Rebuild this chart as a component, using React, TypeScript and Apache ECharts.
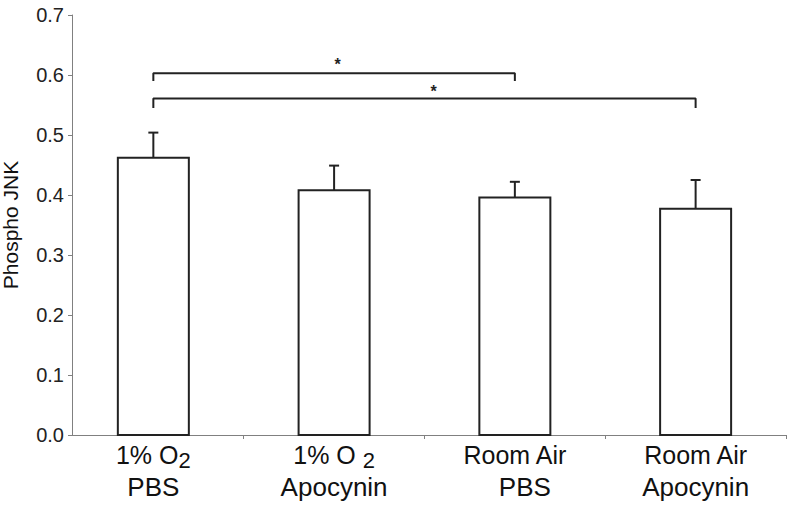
import React, { useEffect, useRef } from "react";
import * as echarts from "echarts";

// ---- data ----
const categories = ["1% O2 PBS", "1% O2 Apocynin", "Room Air PBS", "Room Air Apocynin"];
const labelTop = ["1% O", "1% O ", "Room Air", "Room Air"];
const labelSub = ["2", "2", "", ""];
const labelBottom = ["PBS", "Apocynin", "PBS", "Apocynin"];
const means = [0.462, 0.408, 0.396, 0.377];
const errors = [0.042, 0.041, 0.026, 0.048];
const yTicks = [0, 0.1, 0.2, 0.3, 0.4, 0.5, 0.6, 0.7];
const yName = "Phospho JNK";
// significance brackets: [from index, to index, bar level, leg bottom]
const brackets = [
  [0, 2, 0.603, 0.59],
  [0, 3, 0.561, 0.545],
];
const starText = ["*", "*"];
const starX = [1.02, 1.55];
const starLevels = [0.617, 0.573];

const FONT = "Liberation Sans, Arial, Helvetica, sans-serif";

export default function App() {
  const ref = useRef<HTMLDivElement>(null);

  useEffect(() => {
    if (!ref.current) return;
    const chart = echarts.init(ref.current, undefined, { renderer: "svg" });

    const barData = means.map((m, i) => [i, m]);
    const errData = means.map((m, i) => [i, m, m + errors[i]]);
    const bracketSeries = brackets.map((b) => ({
      type: "line",
      data: [
        [b[0], b[3]],
        [b[0], b[2]],
        [b[1], b[2]],
        [b[1], b[3]],
      ],
      symbol: "none",
      silent: true,
      lineStyle: { color: "#222", width: 2 },
      z: 5,
    }));
    const starData = starX.map((x, i) => [x, starLevels[i], i]);
    const BAR_W = 71;

    const option: any = {
      animation: false,
      backgroundColor: "#fff",
      grid: { left: 72, right: 6, top: 15, bottom: 78, containLabel: false, outerBoundsMode: "none" },
      xAxis: {
        type: "value",
        min: -0.45,
        max: 3.5,
        splitLine: { show: false },
        axisLine: { show: true, onZero: false, lineStyle: { color: "#808080", width: 1 } },
        axisTick: {
          show: true,
          length: 4,
          customValues: [0.5, 1.5, 2.5, 3.5],
          lineStyle: { color: "#808080" },
        },
        axisLabel: {
          show: true,
          customValues: categories.map((_, i) => i),
          margin: 4,
          formatter: (v: number) => {
            const i = Math.round(v);
            const sub = labelSub[i] ? `{s|${labelSub[i]}}` : "";
            const bottomStyle = i === 2 ? "c" : "b";
            return `{a|${labelTop[i]}}${sub}\n{${bottomStyle}|${labelBottom[i]}}`;
          },
          rich: {
            a: { fontSize: 25, lineHeight: 32, color: "#111", fontFamily: FONT },
            s: { fontSize: 22, lineHeight: 18, color: "#111", fontFamily: FONT, verticalAlign: "bottom" },
            b: { fontSize: 26, lineHeight: 32, color: "#111", fontFamily: FONT },
            c: { fontSize: 26, lineHeight: 32, color: "#111", fontFamily: FONT, padding: [0, 0, 0, 20] },
          },
        },
      },
      yAxis: {
        type: "value",
        min: yTicks[0],
        max: yTicks[yTicks.length - 1],
        interval: 0.1,
        name: yName,
        nameLocation: "middle",
        nameRotate: 90,
        nameGap: 51,
        nameTextStyle: { fontSize: 21, color: "#111", fontFamily: FONT },
        splitLine: { show: false },
        axisLine: { show: true, onZero: false, lineStyle: { color: "#808080", width: 1 } },
        axisTick: { show: true, length: 4, lineStyle: { color: "#808080" } },
        axisLabel: {
          fontSize: 20,
          margin: 8,
          color: "#222",
          fontFamily: FONT,
          formatter: (v: number) => v.toFixed(1),
        },
      },
      series: [
        {
          type: "custom",
          data: barData,
          z: 2,
          silent: true,
          renderItem: (params: any, api: any) => {
            const x = api.value(0);
            const base = api.coord([x, 0]);
            const top = api.coord([x, api.value(1)]);
            return {
              type: "rect",
              shape: { x: base[0] - BAR_W / 2, y: top[1], width: BAR_W, height: base[1] - top[1] },
              style: { fill: "#fff", stroke: "#222", lineWidth: 2 },
            };
          },
        },
        {
          type: "custom",
          data: errData,
          z: 4,
          silent: true,
          renderItem: (params: any, api: any) => {
            const x = api.value(0);
            const lo = api.coord([x, api.value(1)]);
            const hi = api.coord([x, api.value(2)]);
            const style = { stroke: "#222", lineWidth: 2 };
            return {
              type: "group",
              children: [
                { type: "line", shape: { x1: lo[0], y1: lo[1], x2: hi[0], y2: hi[1] }, style },
                { type: "line", shape: { x1: hi[0] - 5, y1: hi[1], x2: hi[0] + 5, y2: hi[1] }, style },
              ],
            };
          },
        },
        ...bracketSeries,
        {
          type: "custom",
          data: starData,
          z: 6,
          silent: true,
          renderItem: (params: any, api: any) => {
            const p = api.coord([api.value(0), api.value(1)]);
            return {
              type: "text",
              x: p[0],
              y: p[1],
              style: {
                text: starText[api.value(2)],
                fontSize: 16,
                fontWeight: "bold",
                fontFamily: FONT,
                fill: "#222",
                align: "center",
                verticalAlign: "middle",
              },
            };
          },
        },
      ],
    };

    chart.setOption(option);
    return () => chart.dispose();
  }, []);

  return (
    <div
      ref={ref}
      style={{ position: "fixed", left: 0, top: 0, width: 792, height: 513, background: "#fff" }}
    />
  );
}
